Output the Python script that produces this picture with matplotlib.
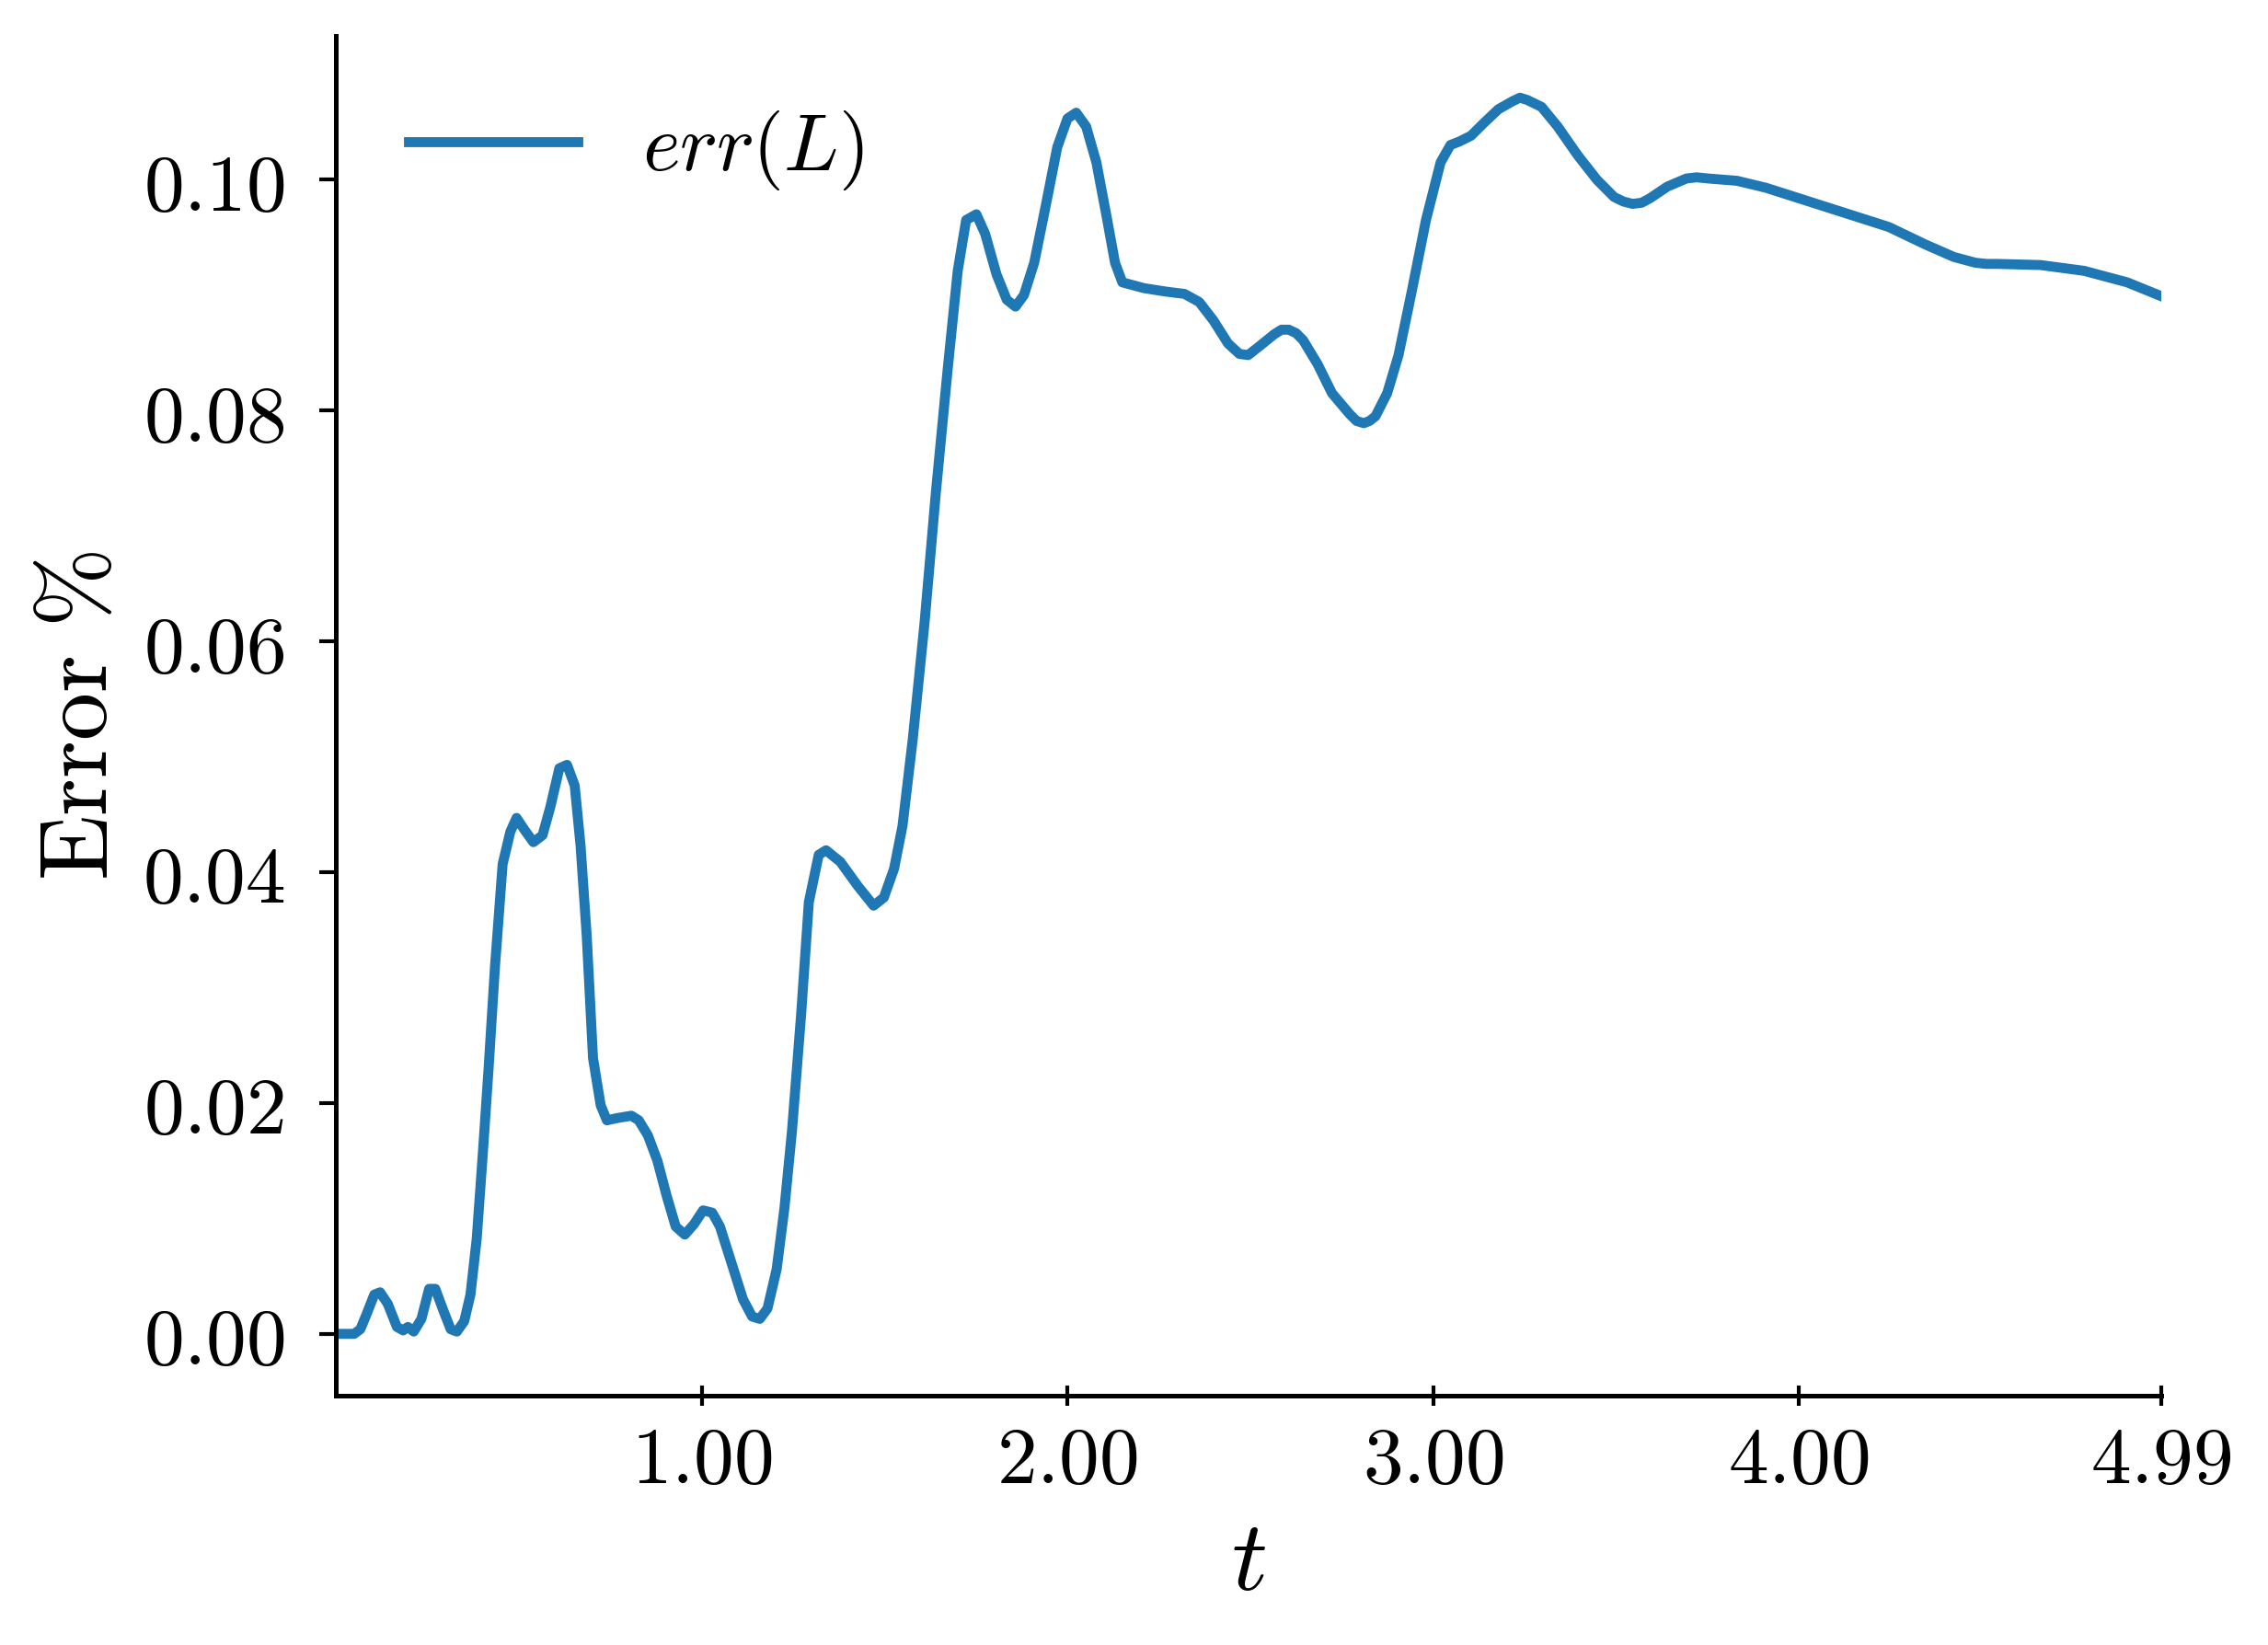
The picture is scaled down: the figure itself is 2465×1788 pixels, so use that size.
import numpy as np
import matplotlib
matplotlib.use("Agg")
import matplotlib.pyplot as plt
from matplotlib.ticker import FuncFormatter

plt.rcParams['mathtext.fontset'] = 'cm'
plt.rcParams['font.family'] = ['DejaVu Serif']

# ---- data ----
t = [0.00, 0.008, 0.05, 0.067, 0.084, 0.105, 0.121, 0.142, 0.167, 0.184, 0.197, 0.213,
     0.234, 0.255, 0.272, 0.293, 0.314, 0.331, 0.351, 0.368, 0.385, 0.402, 0.418,
     0.435, 0.456, 0.477, 0.494, 0.515, 0.540, 0.565, 0.586, 0.611, 0.632, 0.653,
     0.669, 0.686, 0.703, 0.724, 0.741, 0.770, 0.808, 0.828, 0.853, 0.879, 0.904,
     0.929, 0.954, 0.979, 1.004, 1.029, 1.050, 1.079, 1.113, 1.138, 1.159, 1.180,
     1.205, 1.226, 1.247, 1.272, 1.293, 1.320, 1.340, 1.379, 1.427, 1.470, 1.498,
     1.526, 1.549, 1.577, 1.609, 1.640, 1.672, 1.700, 1.723, 1.751, 1.775, 1.806,
     1.834, 1.858, 1.881, 1.909, 1.941, 1.972, 2.000, 2.024, 2.051, 2.079, 2.107,
     2.130, 2.150, 2.209, 2.269, 2.320, 2.360, 2.399, 2.439, 2.470, 2.494, 2.526,
     2.565, 2.585, 2.605, 2.625, 2.644, 2.684, 2.723, 2.771, 2.790, 2.810, 2.826,
     2.842, 2.874, 2.905, 2.941, 2.980, 3.020, 3.047, 3.071, 3.103, 3.138, 3.178,
     3.217, 3.237, 3.257, 3.296, 3.340, 3.395, 3.447, 3.494, 3.520, 3.545, 3.570,
     3.593, 3.640, 3.692, 3.720, 3.751, 3.830, 3.909, 4.008, 4.126, 4.245, 4.344,
     4.423, 4.482, 4.512, 4.542, 4.660, 4.779, 4.897, 4.990]
err = [0.0000, 0.0000, 0.0000, 0.0004, 0.0017, 0.0034, 0.0036, 0.0026, 0.0006, 0.0003,
       0.0006, 0.0002, 0.0013, 0.0039, 0.0039, 0.0021, 0.0004, 0.0002, 0.0011, 0.0034,
       0.0082, 0.0157, 0.0232, 0.0318, 0.0407, 0.0435, 0.0447, 0.0437, 0.0426, 0.0432,
       0.0456, 0.0490, 0.0493, 0.0475, 0.0423, 0.0344, 0.0239, 0.0198, 0.0185, 0.0187,
       0.0189, 0.0185, 0.0172, 0.0150, 0.0120, 0.0093, 0.0086, 0.0095, 0.0107, 0.0105,
       0.0093, 0.0064, 0.0030, 0.0015, 0.0013, 0.0022, 0.0056, 0.0108, 0.0176, 0.0277,
       0.0374, 0.0415, 0.0419, 0.0409, 0.0388, 0.0371, 0.0378, 0.0403, 0.0440, 0.0515,
       0.0615, 0.0728, 0.0834, 0.0921, 0.0965, 0.0970, 0.0953, 0.0918, 0.0896, 0.0890,
       0.0900, 0.0928, 0.0978, 0.1028, 0.1053, 0.1058, 0.1046, 0.1015, 0.0968, 0.0928,
       0.0911, 0.0906, 0.0903, 0.0901, 0.0894, 0.0878, 0.0858, 0.0849, 0.0848, 0.0856,
       0.0866, 0.0870, 0.0870, 0.0867, 0.0861, 0.0840, 0.0815, 0.0797, 0.0791, 0.0789,
       0.0791, 0.0795, 0.0815, 0.0848, 0.0903, 0.0965, 0.1015, 0.1030, 0.1033, 0.1038,
       0.1049, 0.1061, 0.1068, 0.1071, 0.1069, 0.1063, 0.1046, 0.1021, 0.1000, 0.0985,
       0.0981, 0.0979, 0.0980, 0.0984, 0.0994, 0.1001, 0.1002, 0.1001, 0.0999, 0.0993,
       0.0983, 0.0971, 0.0959, 0.0944, 0.0933, 0.0928, 0.0927, 0.0927, 0.0926, 0.0921,
       0.0911, 0.0899]
x_ticks = [1.00, 2.00, 3.00, 4.00, 4.99]
y_ticks = [0.00, 0.02, 0.04, 0.06, 0.08, 0.10]
series_label = r'$err(L)$'

fig = plt.figure(figsize=(2465 / 300, 1788 / 300), dpi=300)
ax = fig.add_axes([365 / 2465, 1 - 1517 / 1788, (2349 - 365) / 2465, (1517 - 39) / 1788])

ax.plot(t, err, color='#1f77b4', lw=2.6, label=series_label)
ax.set_xlim(t[0], t[-1])
ax.margins(y=0.05)

ax.set_xticks(x_ticks)
ax.set_yticks(y_ticks)
fmt = FuncFormatter(lambda v, p: r'$%.2f$' % v)
ax.xaxis.set_major_formatter(fmt)
ax.yaxis.set_major_formatter(fmt)

for s in ['top', 'right']:
    ax.spines[s].set_visible(False)
for s in ['left', 'bottom']:
    ax.spines[s].set_linewidth(1.2)

ax.tick_params(axis='x', direction='inout', length=5.2, width=1.0, labelsize=21, pad=4)
ax.tick_params(axis='y', direction='out', length=4.3, width=1.0, labelsize=21, pad=9)

ax.set_xlabel(r'$t$', fontsize=26, labelpad=4)
ax.set_ylabel(r'$\mathrm{Error}\ \%$', fontsize=25, labelpad=4)

ax.legend(loc='upper left', frameon=False, fontsize=21, handlelength=2.1)

fig.savefig('out.png', dpi=300)
